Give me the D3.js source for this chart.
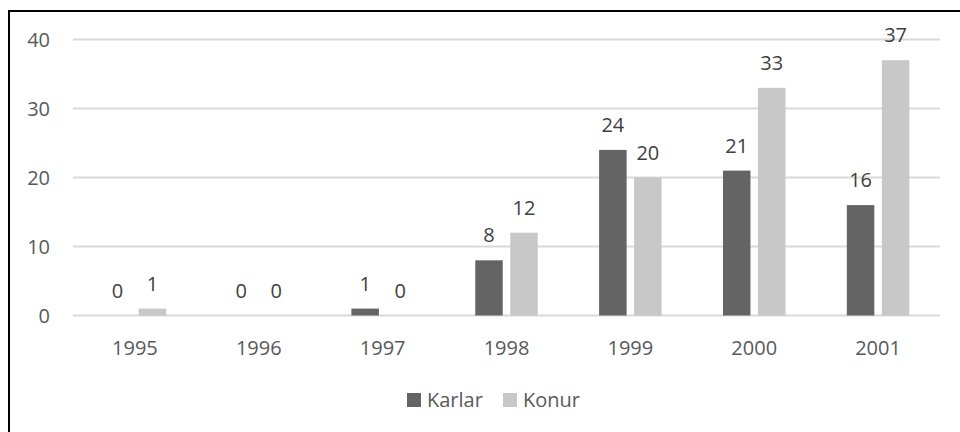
<!DOCTYPE html>
<html>
<head>
<meta charset="utf-8">
<script src="https://cdn.jsdelivr.net/npm/d3@7"></script>
<style>
  html, body { margin: 0; padding: 0; background: #fff; }
  svg { display: block; font-family: "Open Sans", "Noto Sans", sans-serif; }
</style>
</head>
<body>
<div id="chart"></div>
<script>
// --- data ---
const years = ["1995", "1996", "1997", "1998", "1999", "2000", "2001"];
const seriesNames = ["Karlar", "Konur"];
const karlar = [0, 0, 1, 8, 24, 21, 16];
const konur = [1, 0, 0, 12, 20, 33, 37];
const yTicks = [0, 10, 20, 30, 40];

const colors = { Karlar: "#646464", Konur: "#c8c8c8" };
const textColor = "#595959";

const width = 960, height = 432;
const plot = { left: 73, right: 940, top: 39.5, bottom: 315.5 };

const svg = d3.select("#chart").append("svg")
  .attr("width", width)
  .attr("height", height);

svg.append("rect").attr("width", width).attr("height", height).attr("fill", "#fff");

// outer frame (only top and left visible in the crop)
svg.append("path")
  .attr("d", `M9,${height} L9,11 L${width},11`)
  .attr("fill", "none")
  .attr("stroke", "#000")
  .attr("stroke-width", 2);

const x0 = d3.scaleBand().domain(years).range([plot.left, plot.right]).padding(0);
const half = 31.25;
const x1 = d3.scaleBand().domain(seriesNames)
  .range([x0.bandwidth() / 2 - half, x0.bandwidth() / 2 + half])
  .paddingInner(0.214);
const y = d3.scaleLinear().domain([0, 40]).range([plot.bottom, plot.top]);

// gridlines
svg.append("g")
  .selectAll("line")
  .data(yTicks)
  .join("line")
  .attr("x1", plot.left)
  .attr("x2", plot.right)
  .attr("y1", d => y(d))
  .attr("y2", d => y(d))
  .attr("stroke", "#d9d9d9")
  .attr("stroke-width", 2);

// y labels
svg.append("g")
  .selectAll("text")
  .data(yTicks)
  .join("text")
  .attr("x", 50)
  .attr("y", d => y(d))
  .attr("dy", "0.35em")
  .attr("text-anchor", "end")
  .attr("font-size", 20)
  .attr("fill", textColor)
  .text(d => d);

const rows = years.map((yr, i) => ({
  year: yr,
  values: [
    { key: "Karlar", value: karlar[i] },
    { key: "Konur", value: konur[i] }
  ]
}));

const groups = svg.append("g")
  .selectAll("g")
  .data(rows)
  .join("g")
  .attr("transform", d => `translate(${x0(d.year)},0)`);

groups.selectAll("rect")
  .data(d => d.values)
  .join("rect")
  .attr("x", d => x1(d.key))
  .attr("width", x1.bandwidth())
  .attr("y", d => y(d.value))
  .attr("height", d => y(0) - y(d.value))
  .attr("fill", d => colors[d.key]);

groups.selectAll("text")
  .data(d => d.values)
  .join("text")
  .attr("x", d => x1(d.key) + x1.bandwidth() / 2)
  .attr("y", d => y(d.value) - 18)
  .attr("text-anchor", "middle")
  .attr("font-size", 20)
  .attr("fill", "#404040")
  .text(d => d.value);

// x labels
svg.append("g")
  .selectAll("text")
  .data(years)
  .join("text")
  .attr("x", d => x0(d) + x0.bandwidth() / 2)
  .attr("y", 348)
  .attr("dy", "0.35em")
  .attr("text-anchor", "middle")
  .attr("font-size", 20)
  .attr("fill", textColor)
  .text(d => d);

// legend
const legendItems = [
  { key: "Karlar", x: 407 },
  { key: "Konur", x: 503 }
];
const lg = svg.append("g")
  .selectAll("g")
  .data(legendItems)
  .join("g")
  .attr("transform", d => `translate(${d.x},393)`);
lg.append("rect")
  .attr("width", 14)
  .attr("height", 14)
  .attr("fill", d => colors[d.key]);
lg.append("text")
  .attr("x", 20)
  .attr("y", 7)
  .attr("dy", "0.35em")
  .attr("font-size", 20)
  .attr("fill", textColor)
  .text(d => d.key);
</script>
</body>
</html>
